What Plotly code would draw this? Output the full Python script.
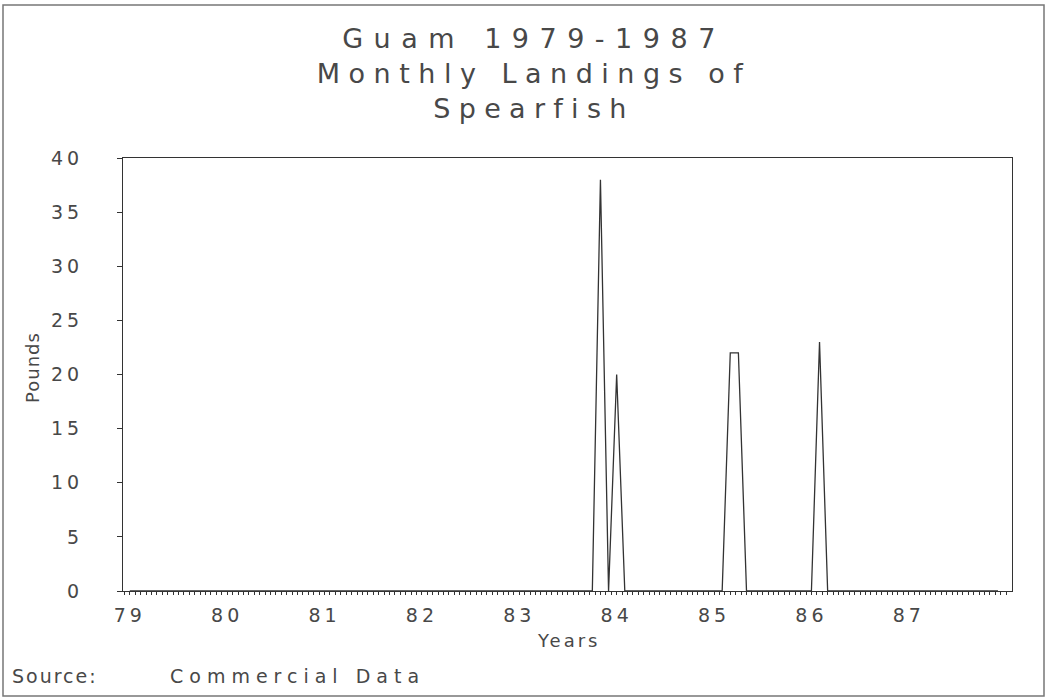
import numpy as np
import plotly.graph_objects as go

# ---------------- data (monthly landings, pounds) ----------------
years = [1979, 1980, 1981, 1982, 1983, 1984, 1985, 1986, 1987]
landings_1979 = [0, 0, 0, 0, 0, 0, 0, 0, 0, 0, 0, 0]
landings_1980 = [0, 0, 0, 0, 0, 0, 0, 0, 0, 0, 0, 0]
landings_1981 = [0, 0, 0, 0, 0, 0, 0, 0, 0, 0, 0, 0]
landings_1982 = [0, 0, 0, 0, 0, 0, 0, 0, 0, 0, 0, 0]
landings_1983 = [0, 0, 0, 0, 0, 0, 0, 0, 0, 0, 38, 0]
landings_1984 = [20, 0, 0, 0, 0, 0, 0, 0, 0, 0, 0, 0]
landings_1985 = [0, 0, 22, 22, 0, 0, 0, 0, 0, 0, 0, 0]
landings_1986 = [0, 23, 0, 0, 0, 0, 0, 0, 0, 0, 0, 0]
landings_1987 = [0, 0, 0, 0, 0, 0, 0, 0, 0, 0, 0, 0]
year_labels = ["79", "80", "81", "82", "83", "84", "85", "86", "87"]
y_ticks = [0, 5, 10, 15, 20, 25, 30, 35, 40]

all_years = [landings_1979, landings_1980, landings_1981, landings_1982, landings_1983,
             landings_1984, landings_1985, landings_1986, landings_1987]

x_vals, y_vals = [], []
for yr, vals in zip(years, all_years):
    for m, v in enumerate(vals):
        x_vals.append(yr - 1900 + m / 12.0)
        y_vals.append(v)

# ---------------- geometry / style ----------------
W, H = 1047, 699
L, R, T, B = 123, 1012, 158, 591          # plot area in pixels
XR = [78.93, 88.06]
FONT = "DejaVu Sans"
TXT = "#484848"
LINE = "#333333"


def ls(s, sp):
    return f'<span style="letter-spacing:{sp}px">{s}</span>'


def px_x(p):
    return (p - L) / (R - L)


def px_y(p):
    return (B - p) / (B - T)


# tick positions along the x axis (axis decoration, ~18 per year)
minor_x = np.arange(79.0 - 1 / 18, XR[1], 1 / 18)
minor_x = [round(v, 5) for v in minor_x if XR[0] < v < XR[1] - 0.05]
tick_text = []
for v in minor_x:
    if abs(v - round(v)) < 1e-4 and 79 <= round(v) <= 87:
        tick_text.append(ls(year_labels[int(round(v)) - 79], 4))
    else:
        tick_text.append("")

fig = go.Figure()
fig.add_trace(go.Scatter(x=x_vals, y=y_vals, mode="lines",
                         line=dict(color=LINE, width=1.3), showlegend=False,
                         hoverinfo="skip"))

title_text = (ls("Guam 1979-1987", 10.5) + "<br>" +
              ls("Monthly Landings of", 8.5) + "<br>" +
              ls("Spearfish", 8.3))

fig.update_layout(
    width=W, height=H,
    margin=dict(l=L, r=W - R, t=T, b=H - B, pad=0),
    paper_bgcolor="white", plot_bgcolor="white",
    font=dict(family=FONT, color=TXT),
    showlegend=False,
    title=dict(
        text=title_text,
        font=dict(size=27, color=TXT, family=FONT),
        x=534 / W, xref="container", xanchor="center",
        y=1 - 48 / H, yref="container", yanchor="top",
    ),
    xaxis=dict(
        range=XR, tickmode="array", tickvals=minor_x, ticktext=tick_text,
        ticks="outside", ticklen=3, tickwidth=1, tickcolor=LINE,
        showline=True, linecolor=LINE, linewidth=1, mirror=True,
        showgrid=False, zeroline=False,
        tickfont=dict(size=19, color=TXT, family=FONT),
        ticklabelstandoff=4,
    ),
    xaxis2=dict(
        range=XR, overlaying="x", anchor="y", side="bottom",
        tickmode="array", tickvals=minor_x, showticklabels=False,
        ticks="inside", ticklen=3, tickwidth=1, tickcolor=LINE,
        showline=False, showgrid=False, zeroline=False,
    ),
    yaxis=dict(
        range=[0, 40], tickmode="array", tickvals=y_ticks,
        ticktext=[ls(str(v), 4) for v in y_ticks],
        ticks="outside", ticklen=5, tickwidth=1, tickcolor=LINE,
        showline=True, linecolor=LINE, linewidth=1, mirror=True,
        showgrid=False, zeroline=False,
        tickfont=dict(size=19, color=TXT, family=FONT),
        ticklabelstandoff=30,
    ),
    yaxis2=dict(
        range=[0, 40], overlaying="y", anchor="x", side="left",
        tickmode="array", tickvals=y_ticks, showticklabels=False,
        ticks="inside", ticklen=5, tickwidth=1, tickcolor=LINE,
        showline=False, showgrid=False, zeroline=False,
    ),
)

annots = [
    dict(text=ls("Years", 3), x=px_x(569), y=px_y(640), xref="paper", yref="paper",
         showarrow=False, xanchor="center", yanchor="middle",
         font=dict(size=18, color=TXT, family=FONT)),
    dict(text=ls("Pounds", 1), x=px_x(32), y=px_y(368), xref="paper", yref="paper",
         showarrow=False, xanchor="center", yanchor="middle", textangle=-90,
         font=dict(size=18, color=TXT, family=FONT)),
    dict(text=ls("Source:", 2), x=px_x(10), y=px_y(676), xref="paper", yref="paper",
         showarrow=False, xanchor="left", yanchor="middle",
         font=dict(size=19, color=TXT, family=FONT)),
    dict(text=ls("Commercial Data", 6), x=px_x(168), y=px_y(676), xref="paper", yref="paper",
         showarrow=False, xanchor="left", yanchor="middle",
         font=dict(size=19, color=TXT, family=FONT)),
]
fig.update_layout(annotations=annots)

fig.add_shape(type="rect", xref="paper", yref="paper",
              x0=px_x(3), x1=px_x(1044), y0=px_y(696), y1=px_y(5),
              line=dict(color="#777777", width=1.5), fillcolor="rgba(0,0,0,0)", layer="below")

fig.write_html("out.html", config={"displayModeBar": False},
               post_script="document.body.style.margin='0px';")
